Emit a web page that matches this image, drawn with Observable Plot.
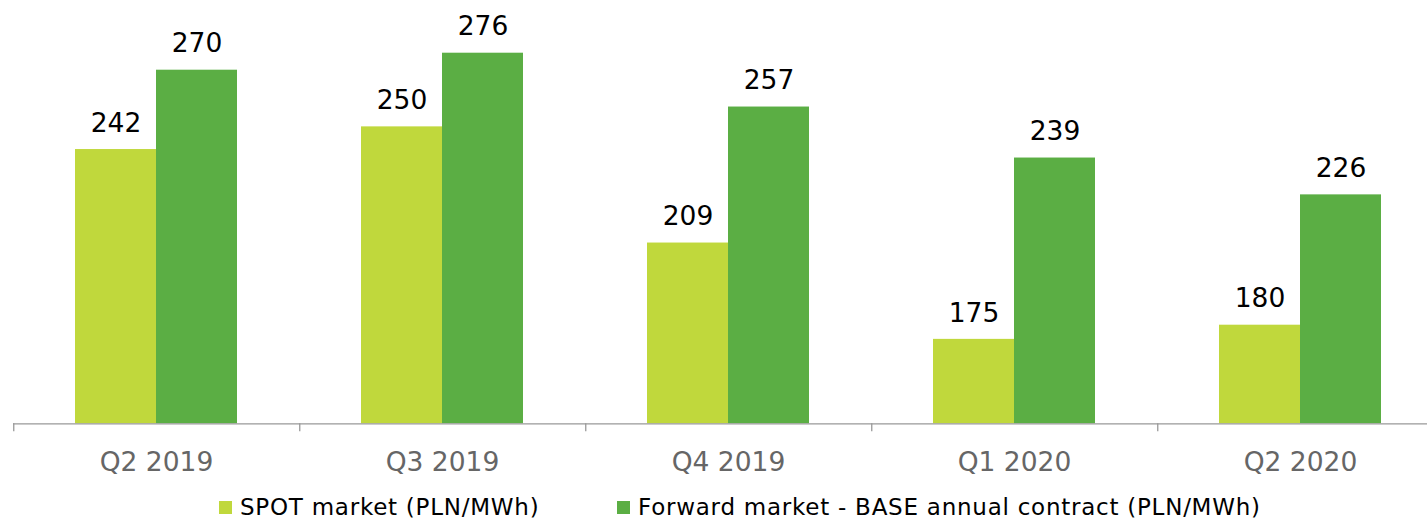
<!DOCTYPE html>
<html>
<head>
<meta charset="utf-8">
<script src="https://cdn.jsdelivr.net/npm/d3@7"></script>
<script src="https://cdn.jsdelivr.net/npm/@observablehq/plot@0.6"></script>
<style>
  html, body { margin: 0; padding: 0; background: white; }
  #wrap { position: relative; width: 1427px; height: 520px; overflow: hidden; font-family: "DejaVu Sans", Verdana, sans-serif; }
  .legend-item { position: absolute; top: 494px; display: flex; align-items: center; font-size: 23px; letter-spacing: 0.75px; color: #000; white-space: nowrap; line-height: 26px; }
  .sw { width: 13px; height: 13px; margin-right: 8px; display: inline-block; }
</style>
</head>
<body>
<div id="wrap"></div>
<script>
const quarters = ["Q2 2019", "Q3 2019", "Q4 2019", "Q1 2020", "Q2 2020"];
const spotValues = [242, 250, 209, 175, 180];
const forwardValues = [270, 276, 257, 239, 226];
const seriesNames = ["SPOT market (PLN/MWh)", "Forward market - BASE annual contract (PLN/MWh)"];
const seriesColors = ["#C0D83C", "#5BAE44"];

const data = quarters.flatMap((q, i) => [
  {quarter: q, series: seriesNames[0], value: spotValues[i]},
  {quarter: q, series: seriesNames[1], value: forwardValues[i]}
]);

const yMin = 145.2, yMax = 294.6;
const paddingOuter = 0.75;
const step = 286.3 / (2 + 2 * paddingOuter);
const firstCenter = step * paddingOuter + step / 2;

const chart = Plot.plot({
  width: 1427,
  height: 480,
  marginTop: 0,
  marginBottom: 56.7,
  marginLeft: 0,
  marginRight: 0,
  style: {fontFamily: "DejaVu Sans, Verdana, sans-serif", background: "white"},
  fx: {domain: quarters, range: [12.7, 12.7 + 5 * 286.3], padding: 0, axis: null, label: null},
  x: {domain: seriesNames, paddingInner: 0, paddingOuter: paddingOuter, axis: null},
  y: {domain: [yMin, yMax], axis: null},
  color: {domain: seriesNames, range: seriesColors},
  marks: [
    Plot.barY(data, {fx: "quarter", x: "series", y1: yMin, y2: "value", fill: "series"}),
    Plot.text(data, {fx: "quarter", x: "series", y: "value", text: d => String(d.value), dy: -26.2, fontSize: 26.5, fill: "#000"}),
    Plot.ruleY([yMin], {stroke: "#999", strokeWidth: 1.3}),
    Plot.ruleX(quarters, {fx: d => d, x: () => seriesNames[0], dx: -firstCenter, y1: yMin, y2: yMin, insetBottom: -8, stroke: "#999", strokeWidth: 1.3}),
    Plot.axisFx({anchor: "bottom", tickSize: 0, tickPadding: 28.5, fontSize: 26.5, fill: "#666", label: null})
  ]
});

const wrap = document.getElementById("wrap");
wrap.appendChild(chart);

const legendLefts = [219, 617];
seriesNames.forEach((name, i) => {
  const item = document.createElement("div");
  item.className = "legend-item";
  item.style.left = legendLefts[i] + "px";
  const sw = document.createElement("span");
  sw.className = "sw";
  sw.style.background = seriesColors[i];
  const label = document.createElement("span");
  label.textContent = name;
  item.appendChild(sw);
  item.appendChild(label);
  wrap.appendChild(item);
});
</script>
</body>
</html>
